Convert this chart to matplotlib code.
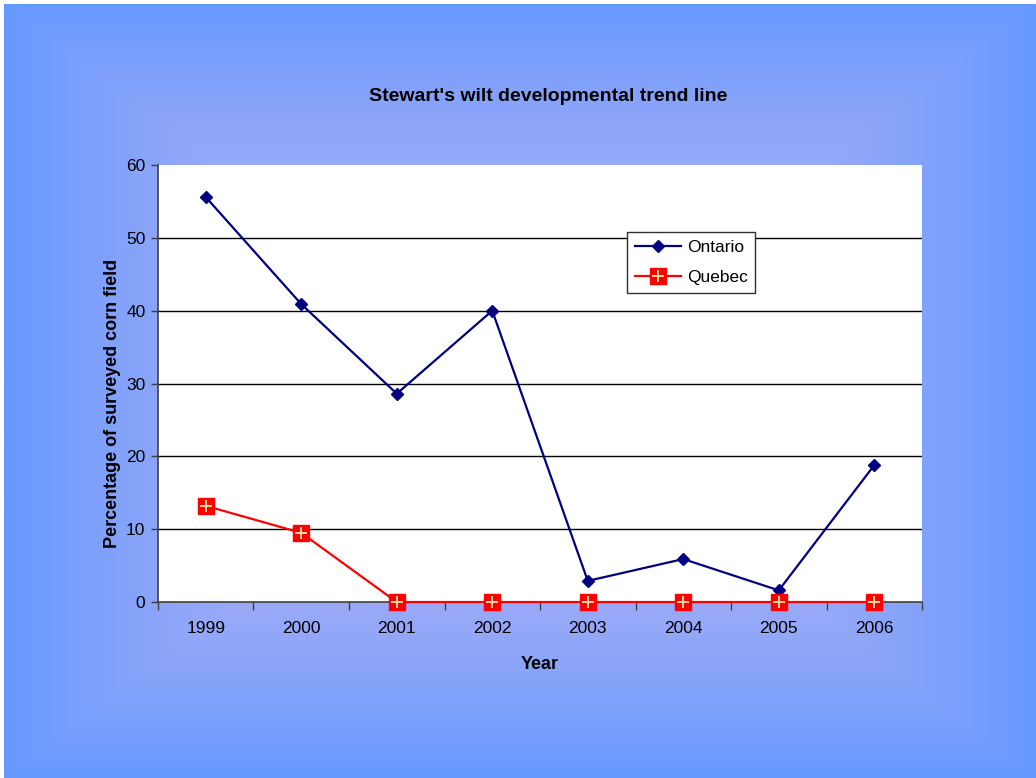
#!/usr/bin/env python3
"""Stewart's wilt developmental trend line, Ontario vs Quebec."""

import matplotlib
matplotlib.use("Agg")
import matplotlib.pyplot as plt
import numpy as np
from matplotlib.colors import LinearSegmentedColormap
from matplotlib.legend_handler import HandlerTuple
from matplotlib.lines import Line2D

years = ["1999", "2000", "2001", "2002", "2003", "2004", "2005", "2006"]
ontario = [55.6, 40.9, 28.6, 40.0, 2.9, 5.9, 1.6, 18.8]
quebec = [13.2, 9.5, 0, 0, 0, 0, 0, 0]
y_ticks = [0, 10, 20, 30, 40, 50, 60]

plt.rcParams.update(
    {
        "font.family": ["Liberation Sans", "DejaVu Sans"],
        "font.size": 12.5,
    }
)

fig = plt.figure(figsize=(10.36, 7.78), dpi=100)
fig.patch.set_facecolor("white")

# rectangular gradient background, light lavender centre fading to blue edges
bg = fig.add_axes([0.004, 0.0, 0.996, 0.995], zorder=-10)
gx, gy = np.meshgrid(np.linspace(-1, 1, 400), np.linspace(-1, 1, 300))
dist = np.maximum(np.abs(gx), np.abs(gy))
shade = np.clip(dist, 0, 1) ** 1.8
cmap = LinearSegmentedColormap.from_list("bg", ["#b6b2f4", "#6699ff"])
bg.imshow(shade, cmap=cmap, aspect="auto", extent=[0, 1, 0, 1], vmin=0, vmax=1)
bg.set_axis_off()

ax = fig.add_axes([0.1525, 0.2262, 0.7375, 0.5617])
ax.set_facecolor("white")
x = np.arange(len(years))

ax.hlines(y_ticks[1:-1], -0.5, len(years) - 0.5, color="black", linewidth=1.0, zorder=1)

ax.plot(x, ontario, color="#000080", linewidth=1.6, marker="D", markersize=6.5,
        markerfacecolor="#000080", markeredgecolor="#000080", zorder=3, clip_on=False)
ax.plot(x, quebec, color="#ff0000", linewidth=1.6, marker="s", markersize=11.5,
        markerfacecolor="#ff0000", markeredgecolor="#ff0000", zorder=4, clip_on=False)
ax.plot(x, quebec, linestyle="none", marker="+", markersize=9, markeredgewidth=1.4,
        color="#ffd8a0", zorder=5, clip_on=False)

ax.set_xlim(-0.5, len(years) - 0.5)
ax.set_ylim(0, 60)
ax.set_yticks(y_ticks)
ax.tick_params(axis="y", direction="out", length=5, width=1, color="#404040",
               labelsize=12.5, pad=4)

ax.set_xticks(np.arange(-0.5, len(years)), labels=[""] * (len(years) + 1))
ax.set_xticks(x, labels=years, minor=True)
ax.tick_params(axis="x", which="major", direction="out", length=6, width=1, color="#404040")
ax.tick_params(axis="x", which="minor", length=0, labelsize=12.5, pad=14)

for side in ("top", "right"):
    ax.spines[side].set_visible(False)
for side in ("left", "bottom"):
    ax.spines[side].set_color("#404040")
    ax.spines[side].set_linewidth(1.2)

ax.set_xlabel("Year", fontsize=13, fontweight="bold", labelpad=14)
ax.set_ylabel("Percentage of surveyed corn field", fontsize=13, fontweight="bold")
ax.yaxis.set_label_coords(-0.072, 0.455)
ax.yaxis.label.set_va("center")
ax.yaxis.set_label_coords(-0.0720 + 0.0125, 0.455)
fig.text(0.5296, 0.876, "Stewart's wilt developmental trend line", ha="center", va="center",
         fontsize=14, fontweight="bold")

h_ont = Line2D([], [], color="#000080", linewidth=1.6, marker="D", markersize=6.5)
h_que = Line2D([], [], color="#ff0000", linewidth=1.6, marker="s", markersize=11.5)
h_plus = Line2D([], [], linestyle="none", marker="+", markersize=9, markeredgewidth=1.4,
                color="#ffd8a0")
leg = fig.legend(
    [h_ont, (h_que, h_plus)],
    ["Ontario", "Quebec"],
    handler_map={tuple: HandlerTuple(ndivide=1)},
    loc="upper left",
    bbox_to_anchor=(0.605, 0.702),
    fontsize=12.5,
    frameon=True,
    fancybox=False,
    edgecolor="#303030",
    framealpha=1,
    handlelength=2.7,
    handletextpad=0.3,
    borderpad=0.45,
    borderaxespad=0,
    labelspacing=0.85,
)
leg.get_frame().set_linewidth(1.0)

fig.savefig("out.png", dpi=100)
